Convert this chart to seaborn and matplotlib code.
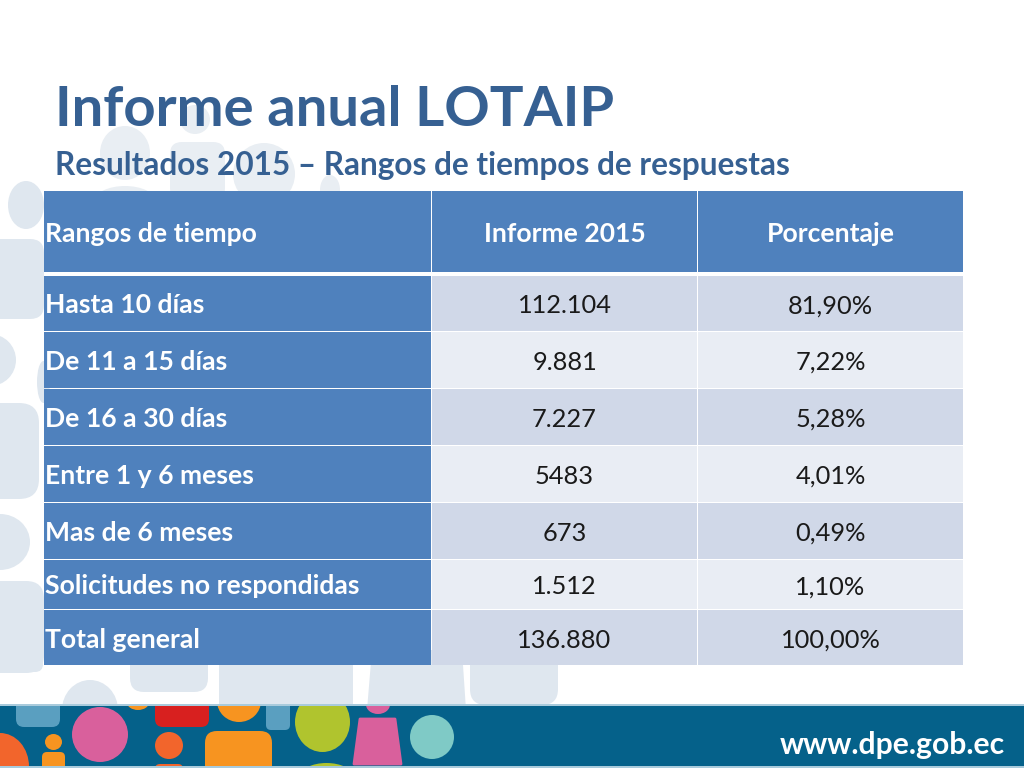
import matplotlib
matplotlib.use("Agg")
import matplotlib.pyplot as plt
import seaborn as sns
from matplotlib.colors import ListedColormap
from matplotlib.patches import Ellipse, FancyBboxPatch, Polygon, Rectangle

# --- Table data ---
HEADERS = ["Rangos de tiempo", "Informe 2015", "Porcentaje"]
RANGOS = ["Hasta 10 días", "De 11 a 15 días", "De 16 a 30 días", "Entre 1 y 6 meses",
          "Mas de 6 meses", "Solicitudes no respondidas", "Total general"]
INFORME = ["112.104", "9.881", "7.227", "5483", "673", "1.512", "136.880"]
PORCENTAJE = ["81,90%", "7,22%", "5,28%", "4,01%", "0,49%", "1,10%", "100,00%"]

TITLE = "Informe anual LOTAIP"
SUBTITLE = "Resultados 2015 – Rangos de tiempos de respuestas"
WEBSITE = "www.dpe.gob.ec"

# --- Layout (pixels of the 1024x768 slide) ---
COL_EDGES = [(44, 431), (432, 697), (698, 963)]
ROW_EDGES = [(191, 272), (276, 331), (332, 388), (389, 445), (446, 502),
             (503, 559), (560, 609), (610, 665)]
W, H = 1024, 768

# cell colours: 0 = blue, 1 = dark band, 2 = light band
cell_cmap = ListedColormap(["#4f81bd", "#d0d8e8", "#e9edf4"])
PALE = "#dfe7ef"
PALE_TOP = "#e9eef3"
TITLE_COLOR = "#366092"
ORANGE = "#f79420"
RED_ORANGE = "#f2652c"
PINK = "#d9609c"
BLUE = "#5a9fc0"
GREEN = "#b0c42e"

sns.set_theme(style="white")
plt.rcParams["font.family"] = ["Lato", "DejaVu Sans"]

fig = plt.figure(figsize=(W / 100, H / 100), dpi=100, facecolor="white")
bg = fig.add_axes([0, 0, 1, 1])
bg.set_xlim(0, W)
bg.set_ylim(H, 0)
bg.axis("off")
band = None


def blob(x0, y0, x1, y1, color, r=12):
    p = FancyBboxPatch((x0 + r, y0 + r), x1 - x0 - 2 * r, y1 - y0 - 2 * r,
                       boxstyle=f"round,pad={r},rounding_size={r}", fc=color, ec="none")
    bg.add_patch(p)
    if band is not None:
        p.set_clip_path(band)


def oval(x0, y0, x1, y1, color):
    p = Ellipse(((x0 + x1) / 2, (y0 + y1) / 2), x1 - x0, y1 - y0, fc=color, ec="none")
    bg.add_patch(p)
    if band is not None:
        p.set_clip_path(band)


# pale figures behind the title and the table
oval(100, 126, 150, 180, PALE_TOP)
oval(180, 105, 210, 134, PALE_TOP)
blob(170, 142, 225, 200, PALE_TOP, 12)
oval(233, 143, 295, 205, PALE_TOP)
oval(320, 175, 340, 205, PALE_TOP)
oval(95, 186, 155, 215, PALE_TOP)
oval(8, 181, 44, 229, PALE)
blob(-20, 239, 44, 319, PALE, 14)
oval(-36, 334, 16, 386, PALE)
oval(37, 361, 50, 403, PALE)
blob(-30, 403, 39, 499, PALE, 20)
oval(-30, 514, 30, 570, PALE)
blob(-20, 581, 44, 673, PALE, 18)
oval(62, 680, 118, 740, PALE)
blob(-10, 650, 43, 672, PALE, 8)
blob(130, 640, 208, 692, PALE, 14)
bg.add_patch(Rectangle((219, 650), 134, 60, fc=PALE, ec="none"))
bg.add_patch(Polygon([(372, 650), (462, 650), (466, 710), (367, 710)], fc=PALE, ec="none"))
blob(470, 640, 558, 705, PALE, 16)

# footer band with coloured figures, clipped to the band
bg.add_patch(Rectangle((0, 704), W, 64, fc="#a9cbdc", ec="none"))
band = Rectangle((0, 706), W, 60, fc="#05618a", ec="none")
bg.add_patch(band)
blob(16, 690, 60, 727, BLUE, 8)
oval(72, 707, 128, 762, PINK)
oval(127, 695, 149, 710, ORANGE)
blob(155, 690, 209, 727, "#d8201f", 8)
oval(217, 680, 261, 722, ORANGE)
blob(266, 690, 290, 730, BLUE, 5)
oval(295, 692, 350, 752, GREEN)
oval(366, 695, 390, 714, PINK)
p = Polygon([(360, 719), (395, 719), (401, 764), (354, 764)], fc=PINK, ec=PINK, lw=2, joinstyle="round")
bg.add_patch(p)
p.set_clip_path(band)
oval(410, 715, 454, 759, "#7fcac6")
oval(-29, 733, 29, 800, RED_ORANGE)
oval(45, 734, 62, 750, ORANGE)
blob(42, 752, 65, 790, ORANGE, 5)
oval(155, 732, 183, 759, RED_ORANGE)
blob(155, 764, 183, 790, RED_ORANGE, 5)
blob(205, 731, 272, 790, ORANGE, 12)
oval(300, 763, 353, 790, GREEN)
bg.set_xlim(0, W)
bg.set_ylim(H, 0)
bg.text(1005, 745, WEBSITE, color="white", fontsize=21.7, fontweight="bold",
        ha="right", va="center")

bg.text(55, 110, TITLE, color=TITLE_COLOR, fontsize=40.5, fontweight="bold", va="center")
bg.text(55, 166, SUBTITLE, color=TITLE_COLOR, fontsize=22.8, fontweight="bold", va="center")

# --- Table: one seaborn heatmap per cell, since rows and columns differ in size ---
rows = [HEADERS] + [list(r) for r in zip(RANGOS, INFORME, PORCENTAJE)]
for i, (row, (top, bottom)) in enumerate(zip(rows, ROW_EDGES)):
    for j, (text, (left, right)) in enumerate(zip(row, COL_EDGES)):
        ax = fig.add_axes([left / W, 1 - bottom / H, (right - left) / W, (bottom - top) / H])
        if i == 0 or j == 0:
            code = 0
        else:
            code = 1 if i % 2 == 1 else 2
        sns.heatmap([[code]], ax=ax, cmap=cell_cmap, vmin=0, vmax=2, cbar=False,
                    xticklabels=False, yticklabels=False)
        white_text = i == 0 or j == 0
        # baseline alignment keeps a row's texts level, commas or not
        ax.text(0.003 if j == 0 else 0.5, 0.5 - 10 / (bottom - top), text, transform=ax.transAxes,
                ha="left" if j == 0 else "center", va="baseline",
                fontsize=19.1 if white_text else 18.3,
                color="white" if white_text else "#1a1a1a",
                fontweight="bold" if white_text else "normal")

fig.savefig("out.png", dpi=100)
